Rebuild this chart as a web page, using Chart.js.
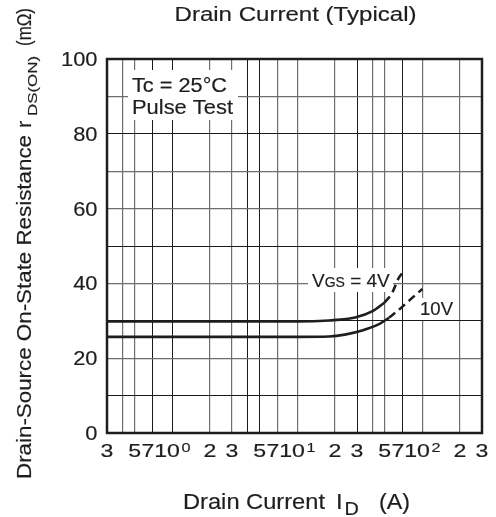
<!DOCTYPE html>
<html><head><meta charset="utf-8">
<script src="https://cdn.jsdelivr.net/npm/chart.js@4.4.1/dist/chart.umd.min.js"></script>
<style>html,body{margin:0;padding:0;background:#fff}canvas{display:block}</style>
</head><body>
<canvas id="c" width="496" height="517"></canvas>
<script>
// ---- data ----
const xGridValues = [0.4,0.5,0.7,1,2,3,4,5,7,10,20,30,40,50,70,100,200];
const xDarkGrid = [0.7,1,4,5,30,70];
const xTickValues = [0.3,0.5,0.7,1,2,3,5,7,10,20,30,50,70,100,200,300];
const xTickLabels = ['3','5','7','10','2','3','5','7','10','2','3','5','7','10','2','3'];
const xTickExps   = ['','','','0','','','','','1','','','','','2','',''];
const yTickValues = [0,20,40,60,80,100];
const yDarkGrid = [10,30,50,80];

const current4VSolid = [0.3, 10, 18, 29, 40, 50];
const rds4VSolid     = [29.8, 29.8, 30.1, 30.9, 32.6, 34.9];
const current4VDash  = [50, 57, 64.6, 70];
const rds4VDash      = [34.9, 37.3, 41.4, 43.0];
const current10VSolid = [0.3, 10, 18, 24, 33, 45, 54];
const rds10VSolid     = [25.7, 25.7, 25.8, 26.3, 27.4, 29.1, 30.8];
const current10VDash  = [54, 64.6, 82, 100];
const rds10VDash      = [30.8, 32.9, 36.0, 38.5];

const FONT = '"Liberation Sans", Arial, Helvetica, sans-serif';
const INK = '#1e1e1e';

function pts(xs, ys){ return xs.map((x,i)=>({x:x, y:ys[i]})); }

function paint(ctx, txt, x0){
  ctx.fillText(txt, x0, 0);
  ctx.lineWidth = 0.18;
  ctx.strokeStyle = INK;
  ctx.strokeText(txt, x0, 0);
}
function fitText(ctx, txt, x, y, size, width, align){
  ctx.font = size + 'px ' + FONT;
  const w = ctx.measureText(txt).width;
  const sx = width / w;
  ctx.save();
  ctx.translate(x, y);
  ctx.scale(sx, 1);
  ctx.textAlign = 'left';
  ctx.textBaseline = 'alphabetic';
  const x0 = align === 'center' ? -w/2 : (align === 'right' ? -w : 0);
  paint(ctx, txt, x0);
  ctx.restore();
}
function scaledText(ctx, txt, x, y, size, sx){
  ctx.font = size + 'px ' + FONT;
  ctx.save(); ctx.translate(x, y); ctx.scale(sx, 1);
  ctx.textAlign = 'left'; ctx.textBaseline = 'alphabetic';
  paint(ctx, txt, 0); ctx.restore();
  return ctx.measureText(txt).width * sx;
}
function measure(ctx, txt, size, sx){
  ctx.font = size + 'px ' + FONT;
  return ctx.measureText(txt).width * sx;
}

const textPlugin = {
  id: 'texts',
  beforeDatasetsDraw(chart){
    const ctx = chart.ctx;
    ctx.save();
    ctx.fillStyle = '#fff';
    ctx.fillRect(128, 70, 110, 50);
    ctx.fillRect(308, 268, 85, 24);
    ctx.fillRect(417, 298, 38, 22);
    ctx.restore();
  },
  afterDatasetsDraw(chart){
    const ctx = chart.ctx;
    const a = chart.chartArea;
    const xs = chart.scales.x, ys = chart.scales.y;
    ctx.save();
    // frame
    ctx.strokeStyle = INK;
    ctx.lineWidth = 2.5;
    ctx.strokeRect(a.left, a.top, a.right - a.left, a.bottom - a.top);
    ctx.fillStyle = INK;
    // title
    fitText(ctx, 'Drain Current (Typical)', (a.left + a.right)/2 + 1, 21, 20.5, 242, 'center');
    // x tick labels
    const sx = 1.25;
    xTickValues.forEach((v, i) => {
      const px = xs.getPixelForValue(v) + (xTickLabels[i] === '7' ? -5 : 0);
      const mw = measure(ctx, xTickLabels[i], 18.5, sx);
      let ew = 0;
      if (xTickExps[i]) ew = 1.5 + measure(ctx, xTickExps[i], 13.5, 1.2);
      const x0 = px - (mw + ew)/2;
      scaledText(ctx, xTickLabels[i], x0, 457, 18.5, sx);
      if (xTickExps[i]) scaledText(ctx, xTickExps[i], x0 + mw + 1.5, 451.5, 13.5, 1.2);
    });
    // y tick labels
    yTickValues.forEach(v => {
      const py = ys.getPixelForValue(v);
      const s = String(v);
      const w = measure(ctx, s, 19.5, 1.12);
      scaledText(ctx, s, 97.5 - w, py + 7, 19.5, 1.12);
    });
    // x axis title
    fitText(ctx, 'Drain Current', 183, 509, 21.5, 142, 'left');
    scaledText(ctx, 'I', 336, 509, 21.5, 1.1);
    scaledText(ctx, 'D', 344.5, 515, 18, 1.1);
    fitText(ctx, '(A)', 379, 509, 21.5, 31, 'left');
    // y axis title (rotated)
    ctx.save();
    ctx.translate(31, 479);
    ctx.rotate(-Math.PI/2);
    fitText(ctx, 'Drain-Source On-State Resistance', 0, 0, 19.5, 344, 'left');
    scaledText(ctx, 'r', 351, 0, 19.5, 1.12);
    fitText(ctx, 'DS(ON)', 363, 5.5, 13.5, 60, 'left');
    fitText(ctx, '(mΩ)', 433, 0, 19.5, 38, 'left');
    ctx.restore();
    // annotations
    fitText(ctx, 'Tc = 25°C', 132, 92, 20, 95, 'left');
    fitText(ctx, 'Pulse Test', 132, 114, 20, 101, 'left');
    let x = 312;
    x += scaledText(ctx, 'V', x, 287, 19, 1.0);
    x += scaledText(ctx, 'GS', x, 287, 14, 1.0);
    scaledText(ctx, ' = 4V', x, 287, 19, 1.0);
    fitText(ctx, '10V', 420, 315, 18, 33, 'left');
    ctx.restore();
  }
};

const lineBase = {
  borderColor: INK, borderWidth: 2.6, pointRadius: 0, fill: false,
  cubicInterpolationMode: 'monotone'
};

new Chart(document.getElementById('c'), {
  type: 'line',
  data: {
    datasets: [
      Object.assign({label: 'VGS = 4V', data: pts(current4VSolid, rds4VSolid)}, lineBase),
      Object.assign({label: 'VGS = 4V (dash)', data: pts(current4VDash, rds4VDash), borderDash: [8, 5]}, lineBase),
      Object.assign({label: '10V', data: pts(current10VSolid, rds10VSolid)}, lineBase),
      Object.assign({label: '10V (dash)', data: pts(current10VDash, rds10VDash), borderDash: [8, 5]}, lineBase)
    ]
  },
  options: {
    responsive: false,
    animation: false,
    devicePixelRatio: 1,
    layout: { padding: { left: 107, right: 14, top: 59, bottom: 84 } },
    plugins: { legend: { display: false }, title: { display: false }, tooltip: { enabled: false } },
    scales: {
      x: {
        type: 'logarithmic', min: 0.3, max: 300,
        afterBuildTicks: s => { s.ticks = xGridValues.map(v => ({ value: v })); },
        ticks: { display: false },
        border: { display: false },
        grid: {
          drawTicks: false,
          color: c => (c.tick && xDarkGrid.includes(c.tick.value)) ? '#1a1a1a' : '#6e6e6e',
          lineWidth: c => (c.tick && xDarkGrid.includes(c.tick.value)) ? 1 : 1.2
        }
      },
      y: {
        type: 'linear', min: 0, max: 100,
        ticks: { display: false, stepSize: 10 },
        border: { display: false },
        grid: {
          drawTicks: false,
          color: c => (c.tick && yDarkGrid.includes(c.tick.value)) ? '#1a1a1a' : '#6e6e6e',
          lineWidth: c => (c.tick && yDarkGrid.includes(c.tick.value)) ? 1 : 1.2
        }
      }
    }
  },
  plugins: [textPlugin]
});
</script>
</body></html>
